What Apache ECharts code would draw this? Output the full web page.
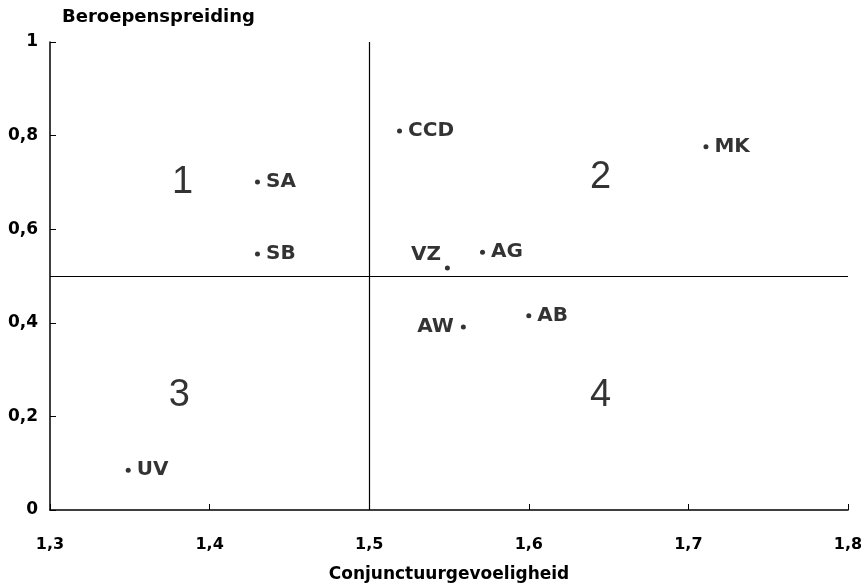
<!DOCTYPE html>
<html>
<head>
<meta charset="utf-8">
<script src="https://cdn.jsdelivr.net/npm/echarts@6/dist/echarts.min.js"></script>
<style>
  html, body { margin: 0; padding: 0; background: #fff; }
  #chart { width: 861px; height: 584px; }
</style>
</head>
<body>
<div id="chart"></div>
<script>
// sectors and their position
var names = ["CCD", "MK", "SA", "SB", "VZ", "AG", "AB", "AW", "UV"];
var conjunctuur = [1.519, 1.711, 1.430, 1.430, 1.549, 1.571, 1.600, 1.559, 1.349];
var spreiding = [0.810, 0.776, 0.701, 0.547, 0.517, 0.551, 0.415, 0.391, 0.085];

// quadrant numbers
var quadrants = ["1", "2", "3", "4"];
var quadX = [1.383, 1.645, 1.381, 1.645];
var quadY = [0.70, 0.71, 0.244, 0.244];

var xTicks = ["1,3", "1,4", "1,5", "1,6", "1,7", "1,8"];
var yTicks = ["0", "0,2", "0,4", "0,6", "0,8", "1"];

// labels that sit left of the dot
var leftLabels = { VZ: [2, -13], AW: [-1, 0] };

var font = "DejaVu Sans";

var chart = echarts.init(document.getElementById('chart'));

var points = names.map(function (n, i) {
    var p = { value: [conjunctuur[i], spreiding[i]], name: n };
    if (leftLabels[n]) {
        p.label = { position: 'left', offset: leftLabels[n] };
    }
    return p;
});

chart.setOption({
    animation: false,
    textStyle: { fontFamily: font },
    grid: { left: 50, right: 13, top: 42, bottom: 74, outerBoundsMode: 'none' },
    xAxis: {
        type: 'value',
        min: 1.3, max: 1.8, interval: 0.1,
        name: 'Conjunctuurgevoeligheid',
        nameLocation: 'middle',
        nameGap: 56,
        nameTextStyle: { color: '#000', fontWeight: 'bold', fontSize: 17, fontFamily: font },
        axisLine: { lineStyle: { color: '#000', width: 1.5 } },
        axisTick: { inside: true, length: 6, lineStyle: { color: '#000' } },
        axisLabel: {
            color: '#000', fontWeight: 'bold', fontSize: 16, margin: 27,
            formatter: function (v) { return xTicks[Math.round((v - 1.3) * 10)]; }
        },
        splitLine: { show: false }
    },
    yAxis: {
        type: 'value',
        min: 0, max: 1, interval: 0.2,
        name: 'Beroepenspreiding',
        nameLocation: 'end',
        nameGap: 25,
        nameTextStyle: {
            color: '#000', fontWeight: 'bold', fontSize: 18, fontFamily: font,
            align: 'left', verticalAlign: 'middle', padding: [0, 0, 0, 12]
        },
        axisLine: { lineStyle: { color: '#000', width: 1.5 } },
        axisTick: { inside: true, length: 6, lineStyle: { color: '#000' } },
        axisLabel: {
            color: '#000', fontWeight: 'bold', fontSize: 17, margin: 12,
            formatter: function (v) { return yTicks[Math.round(v * 5)]; }
        },
        splitLine: { show: false }
    },
    series: [
        {
            type: 'scatter',
            data: points,
            symbolSize: 5,
            itemStyle: { color: '#000' },
            label: {
                show: true,
                position: 'right',
                distance: 6,
                formatter: '{b}',
                color: '#000',
                fontWeight: 'bold',
                fontSize: 20,
                fontFamily: font
            },
            markLine: {
                silent: true,
                symbol: 'none',
                label: { show: false },
                lineStyle: { color: '#000', type: 'solid', width: 1.2 },
                data: [{ xAxis: 1.5 }, { yAxis: 0.5 }]
            }
        },
        {
            type: 'scatter',
            data: quadrants.map(function (q, i) { return { value: [quadX[i], quadY[i]], name: q }; }),
            symbolSize: 0,
            silent: true,
            label: {
                show: true,
                position: 'inside',
                formatter: '{b}',
                color: '#000',
                fontSize: 38,
                fontFamily: 'Liberation Sans'
            }
        }
    ]
});

window.addEventListener('resize', function () {
    chart.resize();
});
</script>
</body>
</html>
